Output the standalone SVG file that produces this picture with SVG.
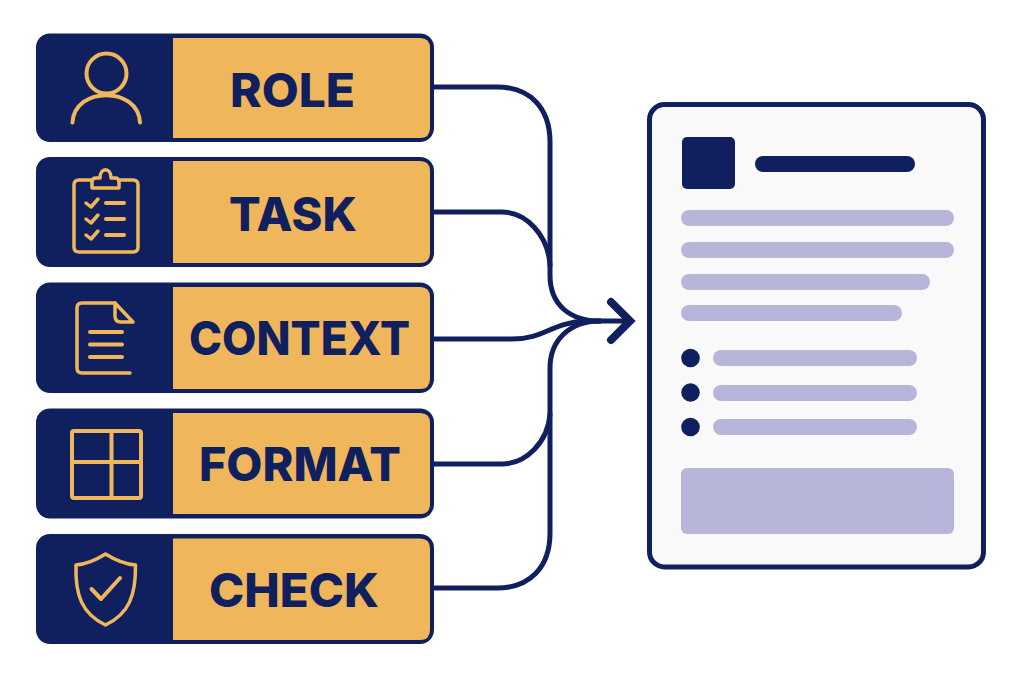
<svg xmlns="http://www.w3.org/2000/svg" width="1024" height="683" viewBox="0 0 1024 683">
<style>
.card{fill:#10205e}
.fill{fill:#f0b65c}
.lab{font-family:"Inter","Liberation Sans",sans-serif;font-weight:800;font-size:47px;fill:#10205e;text-anchor:middle}
.ic{fill:none;stroke:#f0b65c;stroke-width:4;stroke-linecap:round;stroke-linejoin:round}
.ic3{fill:none;stroke:#f0b65c;stroke-width:3.5;stroke-linecap:round;stroke-linejoin:round}
.con{fill:none;stroke:#10205e;stroke-width:5;stroke-linecap:round}
.bar{fill:#b7b6da}
.navy{fill:#10205e}
</style>
<rect width="1024" height="683" fill="#fff"/>
<g id="connectors">
<path class="con" d="M433 87H497C530 87 550 108 550 142V275C550 305 570 321 600 321"/>
<path class="con" d="M433 212H502C526 212 548 235 550 265"/>
<path class="con" d="M433 339H512C545 339 550 323 585 321"/>
<path class="con" d="M433 464H502C526 464 548 442 550 414"/>
<path class="con" d="M433 588H497C530 588 550 567 550 533V368C550 340 570 321 600 321"/>
<path class="con" d="M590 321H628"/>
<path d="M611 302L630 321L611 340" fill="none" stroke="#10205e" stroke-width="8" stroke-linecap="round" stroke-linejoin="miter"/>
</g>
<g id="node-role">
<rect class="card" x="36" y="33.500" width="398" height="108.500" rx="14"/>
<path class="fill" d="M173 38H420Q430 38 430 48V128Q430 138 420 138H173Z"/>
<text class="lab" x="292.500" y="107" textLength="125" lengthAdjust="spacingAndGlyphs">ROLE</text>
<circle class="ic" cx="106.500" cy="73.500" r="20"/>
<path class="ic" d="M72.500 122.500C74.500 86 138 86 140 122.500"/>
</g>
<g id="node-task">
<rect class="card" x="36" y="157" width="398" height="110" rx="14"/>
<path class="fill" d="M173 161H420Q430 161 430 171V253Q430 263 420 263H173Z"/>
<text class="lab" x="293" y="231" textLength="128" lengthAdjust="spacingAndGlyphs">TASK</text>
<path class="ic3" d="M91 180H79Q74 180 74 185V247Q74 252 79 252H133Q138 252 138 247V185Q138 180 133 180H120"/>
<path class="ic3" d="M92 188V182Q92 178 96 178H100C100 167 111 167 111 178H115Q119 178 119 182V188Z"/>
<path class="ic3" d="M86 203L91 207L98 199M86 219L91 223L98 215M86 235L91 239L98 231"/>
<path class="ic" d="M106 203H124M106 219H124M106 235H124"/>
</g>
<g id="node-context">
<rect class="card" x="36" y="282.500" width="398" height="110.500" rx="14"/>
<path class="fill" d="M173 287H420Q430 287 430 297V379Q430 389 420 389H173Z"/>
<text class="lab" x="299.500" y="355" textLength="221" lengthAdjust="spacingAndGlyphs">CONTEXT</text>
<path class="ic3" d="M115 303H82Q77 303 77 308V368Q77 373 82 373H130"/>
<path class="ic3" d="M115 303V316Q115 322 121 322H133ZM115 303L133 322"/>
<path class="ic" d="M90 332H122M90 344.500H122M90 357H122"/>
</g>
<g id="node-format">
<rect class="card" x="36" y="408.500" width="398" height="110" rx="14"/>
<path class="fill" d="M173 413H420Q430 413 430 423V504Q430 514 420 514H173Z"/>
<text class="lab" x="300" y="481" textLength="202" lengthAdjust="spacingAndGlyphs">FORMAT</text>
<rect class="ic" x="72" y="431" width="69" height="67" rx="2"/>
<path class="ic" d="M111.500 431V498M72 462H141"/>
</g>
<g id="node-check">
<rect class="card" x="36" y="534" width="398" height="110" rx="14"/>
<path class="fill" d="M173 538.500H420Q430 538.500 430 548.500V630Q430 640 420 640H173Z"/>
<text class="lab" x="294" y="607" textLength="170" lengthAdjust="spacingAndGlyphs">CHECK</text>
<path class="ic3" d="M105.500 554C96 560 88 564 76 565C75 595 82 614 105.500 625C129 614 136 595 135.500 565C123 564 115 560 105.500 554Z"/>
<path class="ic" d="M91.500 589L101 599L120 578"/>
</g>
<g id="node-document">
<rect x="649.500" y="104.500" width="334" height="462.500" rx="15" fill="#f9f9fa" stroke="#10205e" stroke-width="5"/>
<rect class="navy" x="682" y="137" width="53" height="52" rx="5"/>
<rect class="navy" x="755" y="156" width="160" height="16" rx="8"/>
<rect class="bar" x="681" y="210" width="273" height="16" rx="8"/>
<rect class="bar" x="681" y="242" width="273" height="16" rx="8"/>
<rect class="bar" x="681" y="274" width="249" height="16" rx="8"/>
<rect class="bar" x="681" y="305" width="221" height="16" rx="8"/>
<circle class="navy" cx="690.500" cy="358" r="9.300"/>
<circle class="navy" cx="690.500" cy="392.500" r="9.300"/>
<circle class="navy" cx="690.500" cy="427" r="9.300"/>
<rect class="bar" x="713" y="350" width="204" height="16" rx="8"/>
<rect class="bar" x="713" y="385" width="204" height="16" rx="8"/>
<rect class="bar" x="713" y="419" width="204" height="16" rx="8"/>
<rect class="bar" x="681" y="468" width="273" height="66" rx="6"/>
</g>
</svg>
